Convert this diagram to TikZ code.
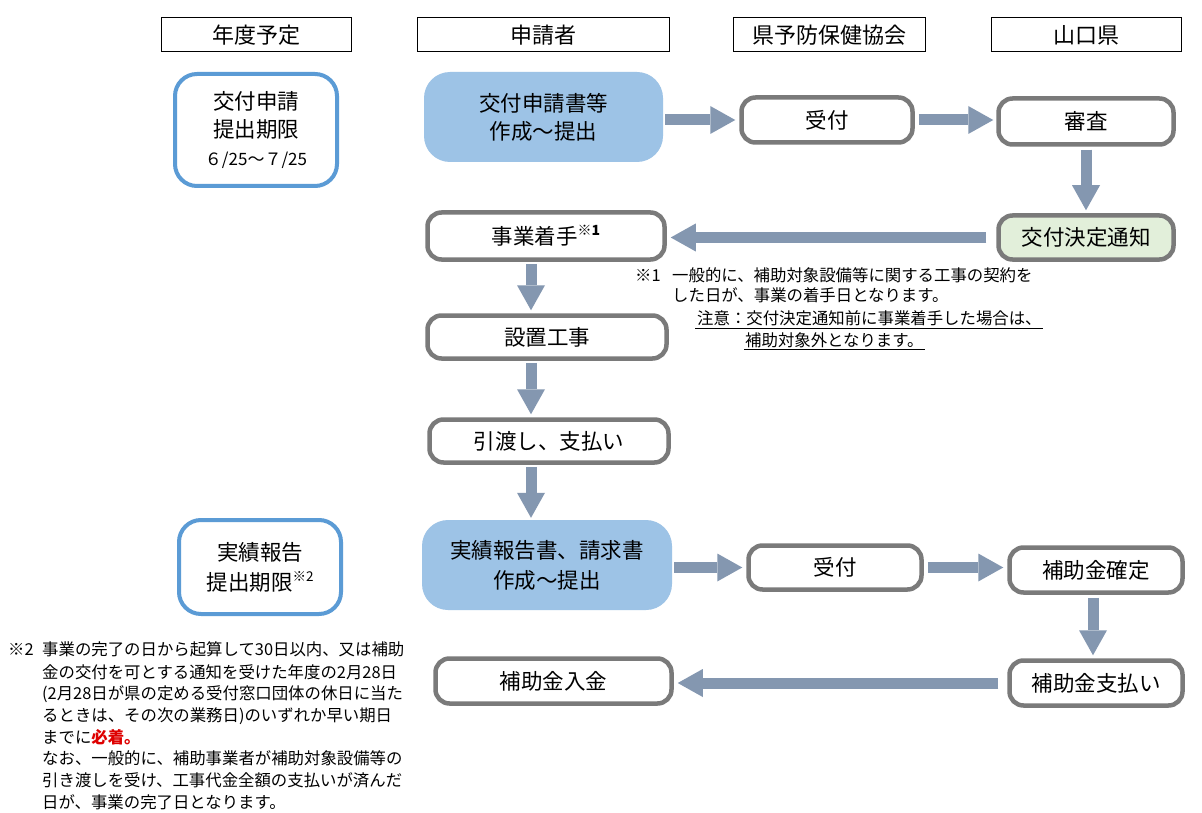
\documentclass[tikz,border=0pt]{standalone}
\usepackage{fontspec}
\setmainfont{Noto Sans CJK JP}
\usetikzlibrary{arrows.meta,calc}
\definecolor{outblue}{RGB}{91,155,213}
\definecolor{fillblue}{RGB}{157,195,230}
\definecolor{boxgray}{RGB}{122,122,122}
\definecolor{arrowc}{RGB}{132,151,176}
\definecolor{greenf}{RGB}{226,239,218}
\definecolor{notered}{RGB}{222,0,0}
\newcommand\supmark[2]{\raisebox{0.4em}{\fontsize{#1}{#1}\selectfont #2}}
\begin{document}
\begin{tikzpicture}[x=1pt,y=-1pt,
  hdr/.style={draw=black, line width=1pt, minimum height=34pt, inner sep=0pt, font=\fontsize{22}{26}\selectfont},
  gbox/.style={draw=boxgray, line width=4.5pt, rounded corners=14pt, fill=white, inner sep=0pt, align=center, font=\fontsize{21.5}{28}\selectfont},
  obox/.style={draw=outblue, line width=4pt, rounded corners=22pt, fill=white, inner sep=0pt, align=center, font=\fontsize{21.5}{28}\selectfont},
  fbox/.style={fill=fillblue, rounded corners=26pt, inner sep=0pt, align=center, font=\fontsize{21.5}{28}\selectfont},
  barrow/.style={draw=arrowc, line width=11pt, -{Triangle[width=28pt,length=25pt,line width=0pt]}},
  note/.style={font=\fontsize{16.4}{20}\selectfont, inner sep=0pt, anchor=base west},
  uline/.style={line width=1pt, black}
]
\useasboundingbox (0,0) rectangle (1202,813);
\fill[white] (0,0) rectangle (1202,813);

% headers
\node[hdr, minimum width=190pt] (h1) at (256,35) {年度予定};
\node[hdr, minimum width=252pt] (h2) at (543,35) {申請者};
\node[hdr, minimum width=192pt] (h3) at (829,35) {県予防保健協会};
\node[hdr, minimum width=190pt] (h4) at (1086,35) {山口県};

% schedule boxes
\node[obox, minimum width=162pt, minimum height=112pt] (d1) at (256,130)
  {交付申請\\提出期限\\{\fontsize{17}{28}\selectfont ６/25～７/25}};
\node[obox, minimum width=162pt, minimum height=94pt, font=\fontsize{21.5}{30}\selectfont] (d2) at (260,567)
  {実績報告\\提出期限\supmark{13.5}{※2}};

% applicant column
\node[fbox, minimum width=239pt, minimum height=90pt] (a1) at (543.5,117) {交付申請書等\\作成～提出};
\node[gbox, minimum width=237pt, minimum height=47pt] (a2) at (546,236) {事業着手\supmark{14}{\bfseries ※1}};
\node[gbox, minimum width=239pt, minimum height=43pt] (a3) at (547,337) {設置工事};
\node[gbox, minimum width=239pt, minimum height=43pt] (a4) at (549,441) {引渡し、支払い};
\node[fbox, minimum width=250pt, minimum height=90pt, font=\fontsize{21.5}{30}\selectfont] (a5) at (547,565) {実績報告書、請求書\\作成～提出};
\node[gbox, minimum width=236pt, minimum height=45pt] (a6) at (553.5,681) {補助金入金};

% association column
\node[gbox, minimum width=171pt, minimum height=45pt] (b1) at (827,120) {受付};
\node[gbox, minimum width=173pt, minimum height=44pt] (b2) at (835,567.5) {受付};

% prefecture column
\node[gbox, minimum width=175pt, minimum height=46pt] (c1) at (1086,121.5) {審査};
\node[gbox, minimum width=175pt, minimum height=44pt, fill=greenf] (c2) at (1086,237.5) {交付決定通知};
\node[gbox, minimum width=173pt, minimum height=45pt] (c3) at (1096,570) {補助金確定};
\node[gbox, minimum width=173pt, minimum height=45pt] (c4) at (1096,683) {補助金支払い};

% arrows
\draw[barrow, shorten <=2pt, shorten >=4pt] (a1.east |- b1) -- (b1.west);
\draw[barrow, shorten <=4pt, shorten >=3pt] (b1.east) -- (c1.west |- b1.east);
\draw[barrow, shorten <=3pt, shorten >=3pt] (c1.south) -- (c2.north);
\draw[barrow, shorten <=10pt, shorten >=4pt] (c2.west) -- (a2.east |- c2.west);
\draw[barrow, shorten <=2pt, shorten >=3pt] ([xshift=-15pt]a2.south) -- ([xshift=-15pt]a2.south |- a3.north);
\draw[barrow, shorten <=2pt, shorten >=3pt] ([xshift=-16pt]a3.south) -- ([xshift=-16pt]a3.south |- a4.north);
\draw[barrow, shorten <=2pt, shorten >=2pt] ([xshift=-18pt]a4.south) -- ([xshift=-18pt]a4.south |- a5.north);
\draw[barrow, shorten <=2pt, shorten >=4pt] (a5.east |- b2) -- (b2.west);
\draw[barrow, shorten <=4pt, shorten >=4pt] (b2.east) -- (c3.west |- b2.east);
\draw[barrow, shorten <=3pt, shorten >=3pt] ([xshift=-3pt]c3.south) -- ([xshift=-3pt]c3.south |- c4.north);
\draw[barrow, shorten <=9pt, shorten >=4pt] (c4.west) -- (a6.east |- c4.west);

% note 1
\node[note] (n1m) at (635,281) {※1};
\node[note] (n1a) at (672,281) {一般的に、補助対象設備等に関する工事の契約を};
\node[note] (n1b) at (672,301) {した日が、事業の着手日となります。};
\node[note] (n1c) at (697,324) {注意：交付決定通知前に事業着手した場合は、};
\node[note] (n1d) at (745,346) {補助対象外となります。};
\draw[uline] ([xshift=-2pt,yshift=-4pt]n1c.base west) -- ([xshift=1pt,yshift=-4pt]n1c.base east);
\draw[uline] ([xshift=-1pt,yshift=-3pt]n1d.base west) -- ([xshift=1pt,yshift=-3pt]n1d.base east);

% note 2
\node[note] (n2m) at (8,655) {※2};
\node[note] (n2a) at (42,655) {事業の完了の日から起算して30日以内、又は補助};
\node[note] (n2b) at (42,678) {金の交付を可とする通知を受けた年度の2月28日};
\node[note] (n2c) at (42,699) {(2月28日が県の定める受付窓口団体の休日に当た};
\node[note] (n2d) at (42,721) {るときは、その次の業務日)のいずれか早い期日};
\node[note] (n2e) at (42,743) {までに\textcolor{notered}{\bfseries 必着。}};
\node[note] (n2f) at (42,764) {なお、一般的に、補助事業者が補助対象設備等の};
\node[note] (n2g) at (42,786) {引き渡しを受け、工事代金全額の支払いが済んだ};
\node[note] (n2h) at (42,808) {日が、事業の完了日となります。};
\end{tikzpicture}
\end{document}
